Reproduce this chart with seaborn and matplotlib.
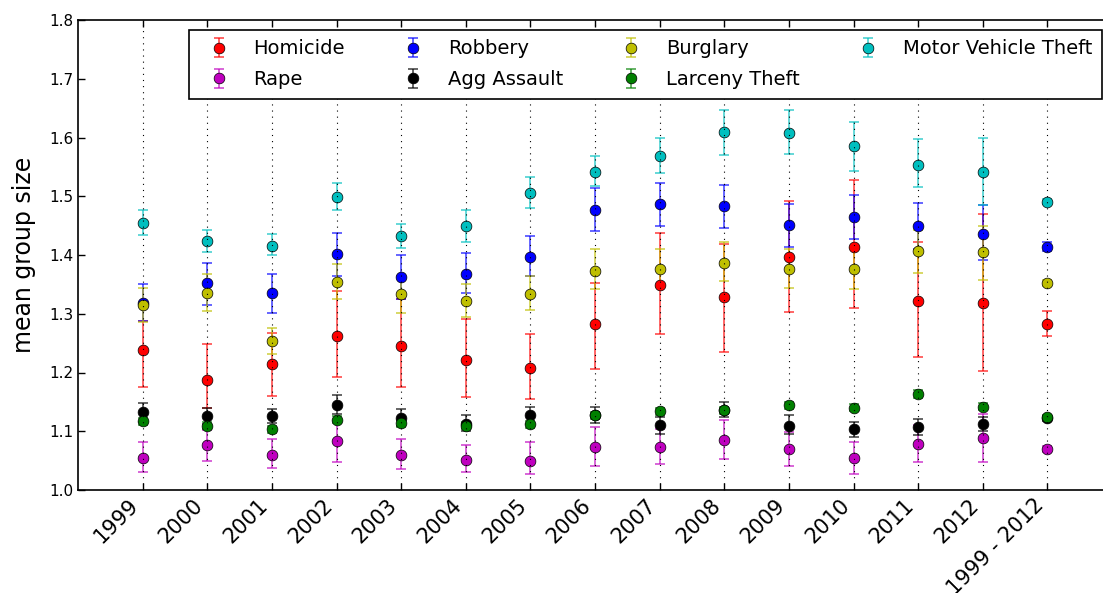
import numpy as np
import pandas as pd
import matplotlib
matplotlib.use("Agg")
import matplotlib.pyplot as plt
from matplotlib.lines import Line2D
from matplotlib.container import ErrorbarContainer
import seaborn as sns

# x-axis categories
periods = ["1999", "2000", "2001", "2002", "2003", "2004", "2005", "2006",
           "2007", "2008", "2009", "2010", "2011", "2012", "1999 - 2012"]

# mean group size per crime type, with lower / upper error-bar ends
homicide = [1.239, 1.188, 1.214, 1.262, 1.245, 1.222, 1.208, 1.282, 1.349, 1.328, 1.396, 1.414, 1.322, 1.318, 1.283]
homicide_lo = [1.175, 1.140, 1.160, 1.193, 1.175, 1.159, 1.155, 1.206, 1.266, 1.235, 1.303, 1.310, 1.227, 1.202, 1.262]
homicide_hi = [1.288, 1.249, 1.268, 1.338, 1.325, 1.291, 1.266, 1.352, 1.437, 1.418, 1.492, 1.527, 1.422, 1.469, 1.305]

rape = [1.054, 1.076, 1.060, 1.083, 1.060, 1.051, 1.050, 1.074, 1.074, 1.085, 1.070, 1.054, 1.079, 1.089, 1.070]
rape_lo = [1.031, 1.050, 1.037, 1.047, 1.036, 1.031, 1.027, 1.041, 1.045, 1.052, 1.041, 1.027, 1.047, 1.048, 1.065]
rape_hi = [1.081, 1.102, 1.086, 1.117, 1.086, 1.076, 1.081, 1.108, 1.103, 1.119, 1.098, 1.081, 1.111, 1.130, 1.075]

robbery = [1.319, 1.352, 1.335, 1.401, 1.363, 1.367, 1.397, 1.477, 1.486, 1.484, 1.451, 1.465, 1.449, 1.436, 1.414]
robbery_lo = [1.288, 1.315, 1.302, 1.365, 1.325, 1.335, 1.364, 1.441, 1.449, 1.446, 1.414, 1.428, 1.410, 1.391, 1.406]
robbery_hi = [1.350, 1.387, 1.367, 1.438, 1.400, 1.403, 1.433, 1.514, 1.523, 1.519, 1.486, 1.502, 1.488, 1.485, 1.422]

agg_assault = [1.132, 1.126, 1.126, 1.145, 1.123, 1.113, 1.127, 1.128, 1.110, 1.137, 1.109, 1.103, 1.107, 1.112, 1.122]
agg_assault_lo = [1.116, 1.112, 1.114, 1.129, 1.109, 1.100, 1.112, 1.114, 1.096, 1.124, 1.096, 1.091, 1.093, 1.100, 1.118]
agg_assault_hi = [1.148, 1.140, 1.138, 1.161, 1.138, 1.127, 1.142, 1.142, 1.124, 1.150, 1.127, 1.115, 1.121, 1.124, 1.126]

burglary = [1.315, 1.335, 1.254, 1.354, 1.334, 1.322, 1.334, 1.373, 1.377, 1.387, 1.377, 1.377, 1.406, 1.405, 1.353]
burglary_lo = [1.286, 1.305, 1.231, 1.325, 1.302, 1.294, 1.307, 1.342, 1.345, 1.356, 1.344, 1.342, 1.370, 1.358, 1.348]
burglary_hi = [1.344, 1.367, 1.276, 1.385, 1.365, 1.350, 1.364, 1.410, 1.410, 1.422, 1.410, 1.412, 1.442, 1.450, 1.357]

larceny = [1.117, 1.109, 1.103, 1.120, 1.114, 1.109, 1.112, 1.127, 1.134, 1.136, 1.144, 1.140, 1.164, 1.142, 1.124]
larceny_lo = [1.111, 1.103, 1.097, 1.114, 1.108, 1.103, 1.106, 1.121, 1.128, 1.130, 1.138, 1.134, 1.157, 1.136, 1.121]
larceny_hi = [1.123, 1.115, 1.109, 1.126, 1.120, 1.115, 1.118, 1.133, 1.140, 1.142, 1.150, 1.146, 1.171, 1.148, 1.127]

motor_vehicle = [1.455, 1.424, 1.416, 1.498, 1.433, 1.449, 1.505, 1.541, 1.568, 1.610, 1.607, 1.585, 1.554, 1.541, 1.490]
motor_vehicle_lo = [1.434, 1.405, 1.400, 1.476, 1.412, 1.422, 1.480, 1.518, 1.540, 1.571, 1.572, 1.543, 1.515, 1.485, 1.486]
motor_vehicle_hi = [1.477, 1.442, 1.436, 1.523, 1.453, 1.476, 1.533, 1.568, 1.599, 1.646, 1.646, 1.627, 1.597, 1.599, 1.495]

series = [
    ("Homicide", "r", homicide, homicide_lo, homicide_hi),
    ("Rape", "m", rape, rape_lo, rape_hi),
    ("Robbery", "b", robbery, robbery_lo, robbery_hi),
    ("Agg Assault", "k", agg_assault, agg_assault_lo, agg_assault_hi),
    ("Burglary", "y", burglary, burglary_lo, burglary_hi),
    ("Larceny Theft", "g", larceny, larceny_lo, larceny_hi),
    ("Motor Vehicle Theft", "c", motor_vehicle, motor_vehicle_lo, motor_vehicle_hi),
]

sns.set_style("ticks", {
    "xtick.direction": "in",
    "ytick.direction": "in",
    "axes.edgecolor": "black",
    "xtick.color": "black",
    "ytick.color": "black",
    "text.color": "black",
    "axes.labelcolor": "black",
})
plt.rcParams["font.family"] = ["DejaVu Sans"]
plt.rcParams["xtick.top"] = True
plt.rcParams["ytick.right"] = False
plt.rcParams["axes.axisbelow"] = False

fig = plt.figure(figsize=(11.03, 5.93), dpi=100)
# the axes run past the right edge of the canvas
ax = fig.add_axes([78 / 1103, 103 / 593, 1034 / 1103, 470 / 593])

pos = np.arange(len(periods))
handles = []
for name, color, vals, lo, hi in series:
    vals = np.asarray(vals)
    yerr = np.vstack([vals - np.asarray(lo), np.asarray(hi) - vals])
    cont = ax.errorbar(pos, vals, yerr=yerr, fmt="none", ecolor=color,
                       elinewidth=1.3, capsize=3.5, capthick=1.3, alpha=0.65,
                       zorder=2)
    df = pd.DataFrame({"pos": pos, "value": vals})
    sns.scatterplot(data=df, x="pos", y="value", color=color, s=60,
                    edgecolor="black", linewidth=0.5, ax=ax, zorder=2.1,
                    legend=False)
    marker_proxy = Line2D([], [], linestyle="none", marker="o", markersize=7.7,
                          markerfacecolor=color, markeredgecolor="black",
                          markeredgewidth=0.5)
    handles.append(ErrorbarContainer((marker_proxy, cont.lines[1], cont.lines[2]),
                                     has_xerr=False, has_yerr=True, label=name))

ax.set_xlim(-1, len(periods))
ax.set_ylim(1.0, 1.8)
ax.set_xticks(pos)
ax.set_xticklabels(periods, rotation=45, ha="right", fontsize=15)
ax.set_yticks(np.arange(1.0, 1.81, 0.1))
ax.set_yticklabels([f"{v:.1f}" for v in np.arange(1.0, 1.81, 0.1)], fontsize=11)
ax.tick_params(axis="both", which="major", length=5, width=1)
ax.set_xlabel("")
ax.set_ylabel("mean group size", fontsize=17, labelpad=9)
ax.xaxis.grid(True, linestyle=(0, (1, 4.5)), color="black", linewidth=0.8)
ax.yaxis.grid(False)
for sp in ax.spines.values():
    sp.set_linewidth(1.2)
ax.spines["right"].set_visible(False)

leg = ax.legend(handles=handles, loc="upper right", ncol=4, fontsize=14,
                numpoints=1, frameon=True, fancybox=False, framealpha=1,
                edgecolor="black", borderpad=0.5, labelspacing=0.6,
                handlelength=2.0, handletextpad=0.8, columnspacing=2.5,
                borderaxespad=0.5)
leg.get_frame().set_linewidth(1.2)

fig.savefig("out.png", dpi=100)
